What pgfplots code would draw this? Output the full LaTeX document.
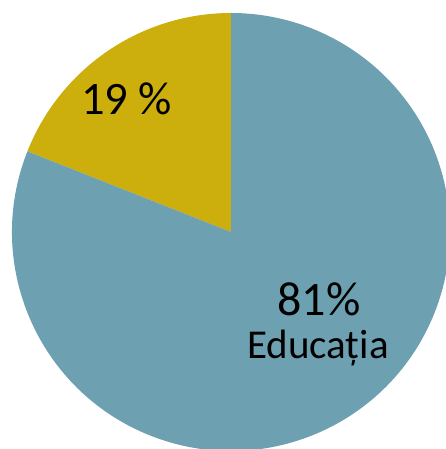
\documentclass[border=0pt]{standalone}
\usepackage{pgfplots}
\pgfplotsset{compat=1.18}
\usepackage{fontspec}
\setmainfont{Carlito}

\definecolor{pieblue}{RGB}{109,160,176}
\definecolor{pieyellow}{RGB}{204,174,12}

\begin{document}
\begin{tikzpicture}
  \begin{axis}[
    width=446pt, height=449pt,
    scale only axis,
    xmin=0, xmax=446,
    ymin=0, ymax=449,
    hide axis,
    clip=true,
  ]
    % slices: start angle 90, counterclockwise, 19% then 81%
    % 19 % -> 68.4 deg ; 81 % -> 291.6 deg
    \fill[pieyellow] (axis cs:231,217) -- ++(90:219pt) arc[start angle=90, end angle=158.4, radius=219pt] -- cycle;
    \fill[pieblue] (axis cs:231,217) -- ++(158.4:219pt) arc[start angle=158.4, end angle=450, radius=219pt] -- cycle;
    \node[anchor=base, inner sep=0pt] at (axis cs:126.5,334) {\fontsize{46.5}{46.5}\selectfont 19 \%};
    \node[anchor=base, inner sep=0pt] at (axis cs:319,133) {\fontsize{48}{48}\selectfont 81\%};
    \node[anchor=base, inner sep=0pt] at (axis cs:318,90) {\fontsize{41}{41}\selectfont Educația};
  \end{axis}
  \pgfresetboundingbox
  \useasboundingbox (current axis.south west) rectangle (current axis.north east);
\end{tikzpicture}
\end{document}
